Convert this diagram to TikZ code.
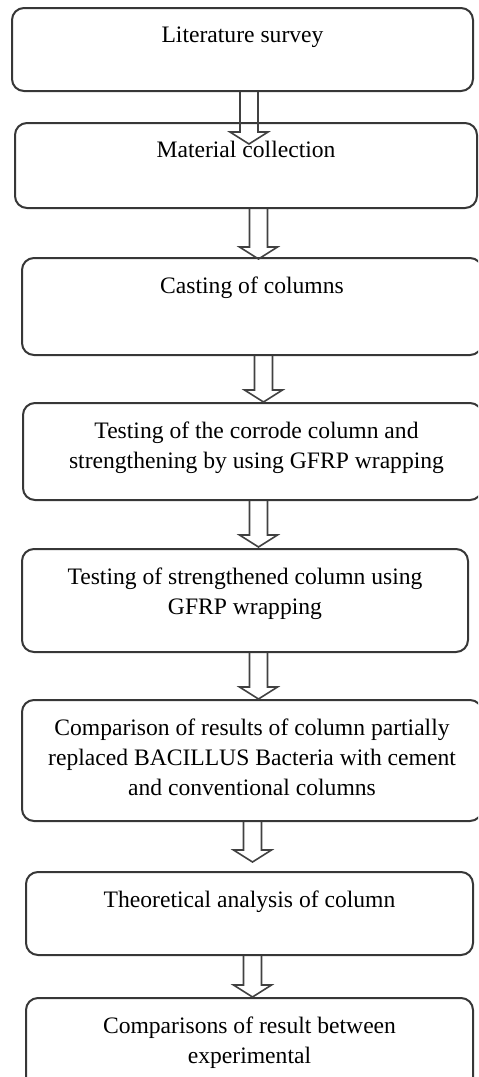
\documentclass[tikz,border=0pt]{standalone}
\usepackage{fontspec}
\setmainfont{Liberation Serif}
\usepackage{tikz}
\usetikzlibrary{
    positioning,
    calc
}
\definecolor{boxGray}{RGB}{55, 55, 55}
\definecolor{arrowGray}{RGB}{65, 65, 65}

% hollow block arrow: from node, to node, x of the shaft, shift of the tip
\newcommand{\blockarrow}[4]{%
    \coordinate (s) at (#3,0 |- #1.south);
    \coordinate (t) at ($(s |- #2.north)+(0,#4)$);
    \draw[hollow] ($(s)+(-9,0)$) -- ($(t)+(-9,-12)$) -- ($(t)+(-19,-12)$) -- (t)
        -- ($(t)+(19,-12)$) -- ($(t)+(9,-12)$) -- ($(s)+(9,0)$);
}

\begin{document}
\begin{tikzpicture}[x=0.5pt, y=-0.5pt,
    stepbox/.style={draw=boxGray, line width=1pt, rounded corners=6pt, inner sep=0pt},
    steptext/.style={anchor=north, align=center, inner sep=0pt, yshift=-9.5pt,
        font=\fontsize{11.8}{15}\selectfont},
    hollow/.style={draw=arrowGray, line width=0.8pt, line join=miter}]
                \useasboundingbox (0,0) rectangle (478,1077);
                \clip (0,0) rectangle (478,1077);

                \node[stepbox, minimum width=230.5pt, minimum height=41.5pt,
                    label={[steptext]north:Literature survey}] (survey) at (242.5,49.5) {};
                \node[stepbox, minimum width=231pt, minimum height=42.5pt,
                    label={[steptext]north:Material collection}] (collection) at (246,165.5) {};
                \node[stepbox, minimum width=230pt, minimum height=48.5pt,
                    label={[steptext]north:Casting of columns}] (casting) at (252,306.5) {};
                \node[stepbox, minimum width=229.5pt, minimum height=48.5pt,
                    label={[steptext, xshift=2pt]north:Testing of the corrode column and\\strengthening by using GFRP wrapping}] (corrode) at (252.5,451.5) {};
                \node[stepbox, minimum width=223pt, minimum height=51.5pt,
                    label={[steptext]north:Testing of strengthened column using\\GFRP wrapping}] (strengthened) at (245,600.5) {};
                \node[stepbox, minimum width=230pt, minimum height=60.5pt,
                    label={[steptext]north:Comparison of results of column partially\\replaced BACILLUS Bacteria with cement\\and conventional columns}] (comparison) at (252,760.5) {};
                \node[stepbox, minimum width=223.5pt, minimum height=41.5pt,
                    label={[steptext]north:Theoretical analysis of column}] (theory) at (249.5,913.5) {};
                \node[stepbox, minimum width=223.5pt, minimum height=48.5pt,
                    label={[steptext]north:Comparisons of result between\\experimental}] (result) at (249.5,1046.5) {};

                \blockarrow{survey}{collection}{249}{22}
                \blockarrow{collection}{casting}{258.5}{2}
                \blockarrow{casting}{corrode}{263.5}{0}
                \blockarrow{corrode}{strengthened}{258.5}{-1}
                \blockarrow{strengthened}{comparison}{258.5}{0}
                \blockarrow{comparison}{theory}{252.5}{-9}
                \blockarrow{theory}{result}{252.5}{0}
            \end{tikzpicture}
\end{document}
